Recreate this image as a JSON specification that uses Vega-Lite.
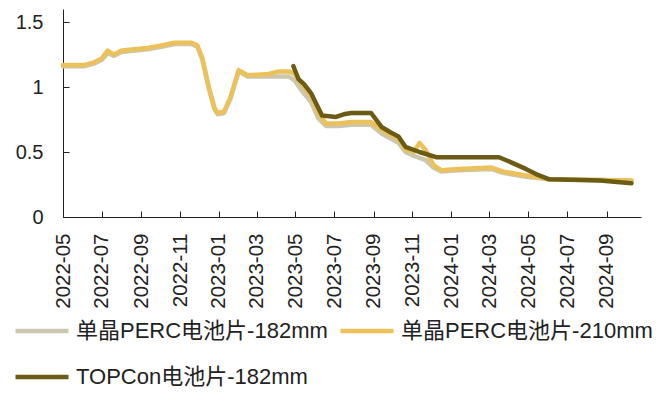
{
  "$schema": "https://vega.github.io/schema/vega-lite/v6.json",
  "width": 578,
  "height": 208,
  "autosize": {"type": "none"},
  "padding": {"left": 63, "top": 9, "right": 26, "bottom": 176},
  "background": "white",
  "config": {
    "view": {"stroke": null},
    "font": "Liberation Sans, Noto Sans CJK SC",
    "axis": {"grid": false, "domainColor": "#222", "tickColor": "#222", "labelColor": "#222", "labelFont": "Liberation Sans", "labelFontSize": 20, "title": null}
  },
  "data": {
    "values": [
      {"series": "单晶PERC电池片-182mm", "date": "2022-05-01", "price": 1.16},
      {"series": "单晶PERC电池片-182mm", "date": "2022-06-04", "price": 1.16},
      {"series": "单晶PERC电池片-182mm", "date": "2022-06-19", "price": 1.18},
      {"series": "单晶PERC电池片-182mm", "date": "2022-07-01", "price": 1.21},
      {"series": "单晶PERC电池片-182mm", "date": "2022-07-10", "price": 1.26},
      {"series": "单晶PERC电池片-182mm", "date": "2022-07-20", "price": 1.24},
      {"series": "单晶PERC电池片-182mm", "date": "2022-08-01", "price": 1.27},
      {"series": "单晶PERC电池片-182mm", "date": "2022-09-11", "price": 1.29},
      {"series": "单晶PERC电池片-182mm", "date": "2022-10-03", "price": 1.31},
      {"series": "单晶PERC电池片-182mm", "date": "2022-10-23", "price": 1.33},
      {"series": "单晶PERC电池片-182mm", "date": "2022-11-19", "price": 1.33},
      {"series": "单晶PERC电池片-182mm", "date": "2022-11-28", "price": 1.31},
      {"series": "单晶PERC电池片-182mm", "date": "2022-12-06", "price": 1.21},
      {"series": "单晶PERC电池片-182mm", "date": "2022-12-16", "price": 0.99},
      {"series": "单晶PERC电池片-182mm", "date": "2022-12-25", "price": 0.83},
      {"series": "单晶PERC电池片-182mm", "date": "2022-12-30", "price": 0.79},
      {"series": "单晶PERC电池片-182mm", "date": "2023-01-09", "price": 0.80},
      {"series": "单晶PERC电池片-182mm", "date": "2023-01-19", "price": 0.91},
      {"series": "单晶PERC电池片-182mm", "date": "2023-02-01", "price": 1.12},
      {"series": "单晶PERC电池片-182mm", "date": "2023-02-15", "price": 1.08},
      {"series": "单晶PERC电池片-182mm", "date": "2023-03-20", "price": 1.08},
      {"series": "单晶PERC电池片-182mm", "date": "2023-04-05", "price": 1.08},
      {"series": "单晶PERC电池片-182mm", "date": "2023-04-21", "price": 1.08},
      {"series": "单晶PERC电池片-182mm", "date": "2023-04-30", "price": 1.05},
      {"series": "单晶PERC电池片-182mm", "date": "2023-05-10", "price": 0.98},
      {"series": "单晶PERC电池片-182mm", "date": "2023-05-26", "price": 0.88},
      {"series": "单晶PERC电池片-182mm", "date": "2023-06-06", "price": 0.76},
      {"series": "单晶PERC电池片-182mm", "date": "2023-06-18", "price": 0.70},
      {"series": "单晶PERC电池片-182mm", "date": "2023-07-08", "price": 0.70},
      {"series": "单晶PERC电池片-182mm", "date": "2023-07-28", "price": 0.71},
      {"series": "单晶PERC电池片-182mm", "date": "2023-08-28", "price": 0.71},
      {"series": "单晶PERC电池片-182mm", "date": "2023-09-14", "price": 0.64},
      {"series": "单晶PERC电池片-182mm", "date": "2023-10-10", "price": 0.57},
      {"series": "单晶PERC电池片-182mm", "date": "2023-10-21", "price": 0.50},
      {"series": "单晶PERC电池片-182mm", "date": "2023-11-03", "price": 0.47},
      {"series": "单晶PERC电池片-182mm", "date": "2023-11-21", "price": 0.44},
      {"series": "单晶PERC电池片-182mm", "date": "2023-12-04", "price": 0.38},
      {"series": "单晶PERC电池片-182mm", "date": "2023-12-16", "price": 0.35},
      {"series": "单晶PERC电池片-182mm", "date": "2024-01-12", "price": 0.36},
      {"series": "单晶PERC电池片-182mm", "date": "2024-03-04", "price": 0.37},
      {"series": "单晶PERC电池片-182mm", "date": "2024-03-22", "price": 0.34},
      {"series": "单晶PERC电池片-182mm", "date": "2024-04-27", "price": 0.31},
      {"series": "单晶PERC电池片-182mm", "date": "2024-06-03", "price": 0.29},
      {"series": "单晶PERC电池片-182mm", "date": "2024-10-10", "price": 0.28},

      {"series": "单晶PERC电池片-210mm", "date": "2022-05-01", "price": 1.17},
      {"series": "单晶PERC电池片-210mm", "date": "2022-06-04", "price": 1.17},
      {"series": "单晶PERC电池片-210mm", "date": "2022-06-19", "price": 1.19},
      {"series": "单晶PERC电池片-210mm", "date": "2022-07-01", "price": 1.22},
      {"series": "单晶PERC电池片-210mm", "date": "2022-07-10", "price": 1.28},
      {"series": "单晶PERC电池片-210mm", "date": "2022-07-20", "price": 1.25},
      {"series": "单晶PERC电池片-210mm", "date": "2022-08-01", "price": 1.28},
      {"series": "单晶PERC电池片-210mm", "date": "2022-09-11", "price": 1.30},
      {"series": "单晶PERC电池片-210mm", "date": "2022-10-03", "price": 1.32},
      {"series": "单晶PERC电池片-210mm", "date": "2022-10-23", "price": 1.34},
      {"series": "单晶PERC电池片-210mm", "date": "2022-11-19", "price": 1.34},
      {"series": "单晶PERC电池片-210mm", "date": "2022-11-28", "price": 1.32},
      {"series": "单晶PERC电池片-210mm", "date": "2022-12-06", "price": 1.22},
      {"series": "单晶PERC电池片-210mm", "date": "2022-12-16", "price": 1.00},
      {"series": "单晶PERC电池片-210mm", "date": "2022-12-25", "price": 0.84},
      {"series": "单晶PERC电池片-210mm", "date": "2022-12-30", "price": 0.80},
      {"series": "单晶PERC电池片-210mm", "date": "2023-01-09", "price": 0.81},
      {"series": "单晶PERC电池片-210mm", "date": "2023-01-19", "price": 0.92},
      {"series": "单晶PERC电池片-210mm", "date": "2023-02-01", "price": 1.13},
      {"series": "单晶PERC电池片-210mm", "date": "2023-02-15", "price": 1.09},
      {"series": "单晶PERC电池片-210mm", "date": "2023-03-20", "price": 1.10},
      {"series": "单晶PERC电池片-210mm", "date": "2023-04-05", "price": 1.12},
      {"series": "单晶PERC电池片-210mm", "date": "2023-04-21", "price": 1.12},
      {"series": "单晶PERC电池片-210mm", "date": "2023-04-30", "price": 1.10},
      {"series": "单晶PERC电池片-210mm", "date": "2023-05-10", "price": 1.03},
      {"series": "单晶PERC电池片-210mm", "date": "2023-05-26", "price": 0.93},
      {"series": "单晶PERC电池片-210mm", "date": "2023-06-06", "price": 0.80},
      {"series": "单晶PERC电池片-210mm", "date": "2023-06-18", "price": 0.72},
      {"series": "单晶PERC电池片-210mm", "date": "2023-07-08", "price": 0.72},
      {"series": "单晶PERC电池片-210mm", "date": "2023-07-28", "price": 0.73},
      {"series": "单晶PERC电池片-210mm", "date": "2023-08-28", "price": 0.73},
      {"series": "单晶PERC电池片-210mm", "date": "2023-09-14", "price": 0.67},
      {"series": "单晶PERC电池片-210mm", "date": "2023-10-10", "price": 0.60},
      {"series": "单晶PERC电池片-210mm", "date": "2023-10-21", "price": 0.52},
      {"series": "单晶PERC电池片-210mm", "date": "2023-11-03", "price": 0.50},
      {"series": "单晶PERC电池片-210mm", "date": "2023-11-12", "price": 0.57},
      {"series": "单晶PERC电池片-210mm", "date": "2023-11-21", "price": 0.52},
      {"series": "单晶PERC电池片-210mm", "date": "2023-12-04", "price": 0.40},
      {"series": "单晶PERC电池片-210mm", "date": "2023-12-16", "price": 0.36},
      {"series": "单晶PERC电池片-210mm", "date": "2024-01-12", "price": 0.37},
      {"series": "单晶PERC电池片-210mm", "date": "2024-03-04", "price": 0.38},
      {"series": "单晶PERC电池片-210mm", "date": "2024-03-22", "price": 0.35},
      {"series": "单晶PERC电池片-210mm", "date": "2024-04-27", "price": 0.32},
      {"series": "单晶PERC电池片-210mm", "date": "2024-06-03", "price": 0.29},
      {"series": "单晶PERC电池片-210mm", "date": "2024-10-10", "price": 0.28},

      {"series": "TOPCon电池片-182mm", "date": "2023-04-28", "price": 1.16},
      {"series": "TOPCon电池片-182mm", "date": "2023-05-06", "price": 1.06},
      {"series": "TOPCon电池片-182mm", "date": "2023-05-15", "price": 1.02},
      {"series": "TOPCon电池片-182mm", "date": "2023-05-26", "price": 0.95},
      {"series": "TOPCon电池片-182mm", "date": "2023-06-03", "price": 0.87},
      {"series": "TOPCon电池片-182mm", "date": "2023-06-12", "price": 0.78},
      {"series": "TOPCon电池片-182mm", "date": "2023-07-04", "price": 0.77},
      {"series": "TOPCon电池片-182mm", "date": "2023-07-16", "price": 0.79},
      {"series": "TOPCon电池片-182mm", "date": "2023-07-28", "price": 0.80},
      {"series": "TOPCon电池片-182mm", "date": "2023-08-28", "price": 0.80},
      {"series": "TOPCon电池片-182mm", "date": "2023-09-14", "price": 0.69},
      {"series": "TOPCon电池片-182mm", "date": "2023-09-28", "price": 0.65},
      {"series": "TOPCon电池片-182mm", "date": "2023-10-10", "price": 0.62},
      {"series": "TOPCon电池片-182mm", "date": "2023-10-21", "price": 0.54},
      {"series": "TOPCon电池片-182mm", "date": "2023-11-12", "price": 0.50},
      {"series": "TOPCon电池片-182mm", "date": "2023-12-08", "price": 0.46},
      {"series": "TOPCon电池片-182mm", "date": "2024-03-16", "price": 0.46},
      {"series": "TOPCon电池片-182mm", "date": "2024-04-04", "price": 0.42},
      {"series": "TOPCon电池片-182mm", "date": "2024-04-27", "price": 0.37},
      {"series": "TOPCon电池片-182mm", "date": "2024-05-13", "price": 0.33},
      {"series": "TOPCon电池片-182mm", "date": "2024-06-03", "price": 0.29},
      {"series": "TOPCon电池片-182mm", "date": "2024-08-22", "price": 0.28},
      {"series": "TOPCon电池片-182mm", "date": "2024-10-10", "price": 0.26}
    ]
  },
  "mark": {"type": "line", "strokeWidth": 4.5, "strokeJoin": "round", "strokeCap": "round"},
  "encoding": {
    "x": {
      "field": "date", "type": "temporal",
      "scale": {"domain": ["2022-05-01", "2024-10-25"]},
      "axis": {
        "format": "%Y-%m",
        "values": ["2022-05-01", "2022-07-01", "2022-09-01", "2022-11-01", "2023-01-01", "2023-03-01", "2023-05-01", "2023-07-01", "2023-09-01", "2023-11-01", "2024-01-01", "2024-03-01", "2024-05-01", "2024-07-01", "2024-09-01"],
        "labelAngle": -90, "labelAlign": "right", "labelBaseline": "middle",
        "tickSize": -6, "labelPadding": 22, "labelFontSize": 20.5
      }
    },
    "y": {
      "field": "price", "type": "quantitative",
      "scale": {"domain": [0, 1.6], "nice": false},
      "axis": {"values": [0, 0.5, 1, 1.5], "format": ".1~f", "tickSize": -6, "labelPadding": 26}
    },
    "color": {
      "field": "series", "type": "nominal",
      "scale": {
        "domain": ["单晶PERC电池片-182mm", "单晶PERC电池片-210mm", "TOPCon电池片-182mm"],
        "range": ["#cbc6ae", "#ecc15a", "#6b5b14"]
      },
      "legend": {
        "title": null, "orient": "none", "legendX": -50, "legendY": 293,
        "direction": "horizontal", "columns": 2,
        "symbolType": "stroke", "symbolSize": 2809, "symbolStrokeWidth": 4.5,
        "labelFontSize": 22, "labelFont": "Liberation Sans, Noto Sans CJK SC", "labelColor": "#222",
        "labelOffset": 5, "columnPadding": 3, "rowPadding": 6, "padding": 0, "labelLimit": 400
      }
    }
  }
}
